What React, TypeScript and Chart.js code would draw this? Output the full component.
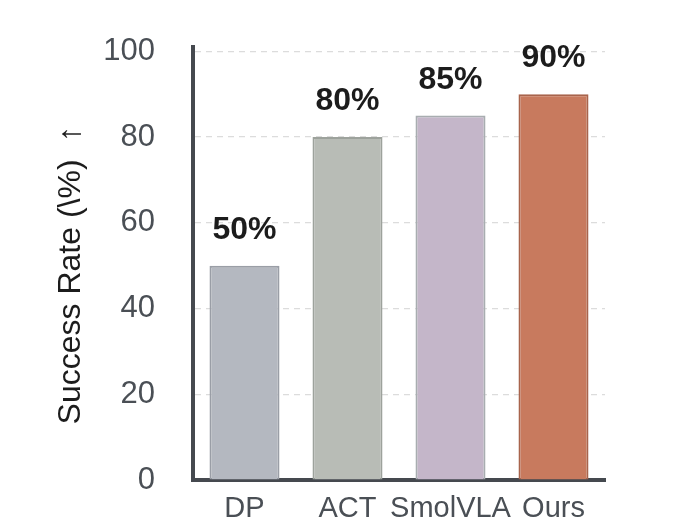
import { useEffect, useRef } from "react";
import Chart, { ChartConfiguration } from "chart.js/auto";

const methods = ["DP", "ACT", "SmolVLA", "Ours"];
const successRates = [50, 80, 85, 90];
const fillColors = ["#b4b8c0", "#b8bcb6", "#c4b6c9", "#c87a5e"];
const edgeColors = ["#9a9ea6", "#9da29c", "#a8adb0", "#a8644c"];
const yTicks = [0, 20, 40, 60, 80, 100];
const yTitle = "Success Rate (\\%)  ↑";

const font = "'Liberation Sans', Arial, Helvetica, sans-serif";

const valueLabels = {
  id: "valueLabels",
  afterDatasetsDraw(chart: Chart) {
    const { ctx } = chart;
    const meta = chart.getDatasetMeta(0);
    ctx.save();
    ctx.font = `bold 32px ${font}`;
    ctx.fillStyle = "#1c1c1c";
    ctx.textAlign = "center";
    ctx.textBaseline = "alphabetic";
    meta.data.forEach((bar, i) => {
      ctx.fillText(`${successRates[i]}%`, bar.x, bar.y - 27);
    });
    ctx.restore();
  },
};

// matplotlib-style y label, centred a bit lower than the axis middle
const yLabel = {
  id: "yLabel",
  afterDraw(chart: Chart) {
    const { ctx } = chart;
    ctx.save();
    ctx.translate(80, 275);
    ctx.rotate(-Math.PI / 2);
    ctx.font = `32px ${font}`;
    ctx.fillStyle = "#1c1c1c";
    ctx.textAlign = "center";
    ctx.textBaseline = "alphabetic";
    ctx.fillText(yTitle, 0, 0);
    ctx.restore();
  },
};

export default function App() {
  const canvasRef = useRef<HTMLCanvasElement>(null);
  const chartRef = useRef<Chart | null>(null);

  useEffect(() => {
    if (!canvasRef.current) return;
    const config: ChartConfiguration<"bar", number[], string> = {
      type: "bar",
      data: {
        labels: methods,
        datasets: [
          {
            data: successRates,
            backgroundColor: fillColors,
            borderColor: edgeColors,
            borderWidth: 2,
            barPercentage: 0.68,
            categoryPercentage: 1,
          },
        ],
      },
      options: {
        animation: false,
        responsive: false,
        maintainAspectRatio: false,
        layout: { padding: { left: 0, right: 95, top: 47, bottom: 0 } },
        plugins: {
          legend: { display: false },
          tooltip: { enabled: false },
        },
        scales: {
          x: {
            grid: { display: false, drawTicks: false },
            border: { display: true, color: "#45494f", width: 4 },
            ticks: {
              color: "#4a4f55",
              padding: 12,
              maxRotation: 0,
              minRotation: 0,
              autoSkip: false,
              font: { family: font, size: 29 },
            },
            afterFit: (scale) => {
              scale.height = 47;
              scale.paddingLeft = 0;
              scale.paddingRight = 0;
            },
          },
          y: {
            min: 0,
            max: 101,
            afterBuildTicks: (scale) => {
              scale.ticks = yTicks.map((v) => ({ value: v }));
            },
            afterFit: (scale) => {
              scale.width = 193;
              scale.paddingTop = 0;
              scale.paddingBottom = 0;
            },
            grid: {
              color: (c) => (c.tick && c.tick.value === 0 ? "rgba(0,0,0,0)" : "#dcdcdc"),
              lineWidth: 1.2,
              drawTicks: false,
            },
            border: { display: true, color: "#45494f", width: 4, dash: [6, 5] },
            ticks: {
              color: "#4a4f55",
              padding: 38,
              font: { family: font, size: 31 },
            },
          },
        },
      },
      plugins: [valueLabels, yLabel],
    };
    chartRef.current = new Chart(canvasRef.current, config);
    return () => {
      chartRef.current?.destroy();
      chartRef.current = null;
    };
  }, []);

  return (
    <div style={{ position: "fixed", left: 0, top: 0, width: 700, height: 527, background: "#fff" }}>
      <canvas ref={canvasRef} width={700} height={527} style={{ width: 700, height: 527 }} />
    </div>
  );
}
